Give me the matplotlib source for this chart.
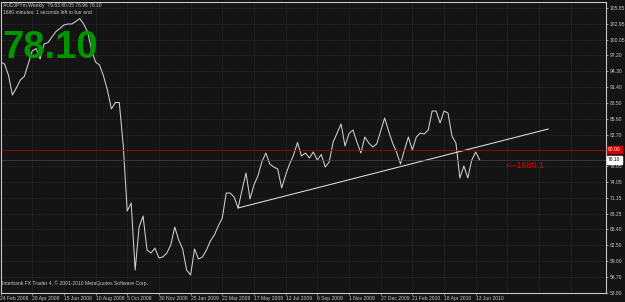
import numpy as np
import matplotlib
matplotlib.use('Agg')
import matplotlib.pyplot as plt

# weekly closes AUDJPY, one value per week starting 24 Feb 2008
closes = [95.99, 95.63, 93.62, 89.96, 91.24, 92.70, 93.34, 95.63, 98.00, 98.45,
          96.54, 99.28, 99.55, 100.56, 101.56, 102.11, 102.75, 102.93, 102.93, 103.39,
          103.94, 102.93, 101.47, 98.18, 95.99, 95.44, 93.44, 90.88, 87.41, 88.59,
          88.59, 80.65, 68.78, 70.24, 58.00, 65.85, 67.86, 61.65, 61.10, 62.00,
          60.20, 60.38, 61.10, 62.57, 65.85, 63.48, 61.84, 58.00, 57.09, 61.84,
          60.01, 60.38, 61.65, 63.30, 64.40, 66.04, 67.50, 72.06, 72.06, 71.33,
          69.33, 72.61, 75.72, 70.97, 73.53, 75.17, 77.73, 79.37, 77.36, 76.81,
          76.45, 72.98, 75.35, 77.36, 79.00, 81.29, 78.82, 79.37, 78.46, 79.55,
          78.09, 79.10, 76.81, 77.73, 81.38, 83.02, 84.67, 80.65, 82.93, 83.57,
          81.38, 79.37, 82.29, 81.20, 80.47, 81.02, 83.39, 85.76, 83.39, 81.20,
          79.55, 77.36, 79.92, 82.29, 79.92, 82.29, 83.02, 82.84, 83.57, 87.04,
          87.04, 84.85, 87.04, 86.68, 82.48, 81.20, 74.80, 77.00, 74.80, 78.09,
          79.55, 78.10]

date_labels = ['24 Feb 2008', '20 Apr 2008', '15 Jun 2008', '10 Aug 2008', '5 Oct 2008',
               '30 Nov 2008', '25 Jan 2009', '22 Mar 2009', '17 May 2009', '12 Jul 2009',
               '6 Sep 2009', '1 Nov 2009', '27 Dec 2009', '21 Feb 2010', '18 Apr 2010',
               '13 Jun 2010']
price_ticks = [105.85, 102.95, 100.05, 97.20, 94.30, 91.40, 88.50, 85.60, 82.70,
               76.95, 74.05, 71.15, 68.25, 65.40, 62.50, 59.60, 56.70, 53.80]

# trend line (week, price) and levels
trend_weeks = [60, 138.3]
trend_prices = [69.33, 83.75]
alert_level = 80.00
bid = 78.10

bg = '#141414'
fg = '#c8c8c8'
small = dict(family='Liberation Sans', fontsize=3.6, color=fg)

fig = plt.figure(figsize=(6.25, 3.02), dpi=100, facecolor=bg)
ax = fig.add_axes([0.5 / 625, 1 - 293 / 302, 605.5 / 625, 291 / 302])
ax.set_facecolor(bg)

weeks = np.arange(len(closes))
ax.plot(weeks, closes, color='#d0d0d0', lw=0.75)
ax.plot(trend_weeks, trend_prices, color='#e0e0e0', lw=0.75)
ax.axhline(alert_level, color='#a00000', lw=0.6)
ax.axhline(bid, color='#454545', lw=0.5)

ax.set_xlim(0, 152.9)
ax.set_ylim(53.8, 106.95)

xt = np.arange(0, 8 * len(date_labels), 8)
ax.set_xticks(xt)
ax.set_xticklabels(date_labels, ha='left', **small)
ax.set_xticks([128, 136, 144], minor=True)
ax.yaxis.tick_right()
ax.set_yticks(price_ticks)
ax.set_yticklabels(['%.2f' % p for p in price_ticks], **small)
ax.tick_params(axis='both', which='both', colors=fg, length=1.5, width=0.5, pad=1)
ax.tick_params(axis='x', which='minor', length=0)
ax.grid(True, which='both', color='#353535', linestyle=':', linewidth=0.6)

for s in ax.spines.values():
    s.set_color(fg)
    s.set_linewidth(0.8)

# price labels at the right margin
ax.text(1.003, (alert_level - 53.8) / (106.95 - 53.8), '%.2f' % alert_level,
        transform=ax.transAxes, va='center', ha='left', family='Liberation Sans',
        fontsize=3.6, color='white',
        bbox=dict(boxstyle='square,pad=0.25', fc='#d00000', ec='#d00000'))
ax.text(1.003, (bid - 53.8) / (106.95 - 53.8), '%.2f' % bid,
        transform=ax.transAxes, va='center', ha='left', family='Liberation Sans',
        fontsize=3.6, color='black',
        bbox=dict(boxstyle='square,pad=0.25', fc='white', ec='white'))

# header / footer texts
fig.text(3 / 625, 1 - 5 / 302, 'AUDJPYm,Weekly  79.63 80.05 76.96 78.10', va='center', **small)
fig.text(3 / 625, 1 - 12 / 302, '1680 minutes: 1 seconds left to bar end', va='center', **small)
fig.text(2 / 625, 1 - 58 / 302, '78.10', family='Liberation Sans', fontweight='bold',
         fontsize=27.5, color='#009600', va='baseline')
fig.text(2 / 625, 1 - 283 / 302, 'Interbank FX Trader 4, \u00a9 2001-2010 MetaQuotes Software Corp.',
         va='center', **small)
fig.text(506 / 625, 1 - 165 / 302, '<--1680:1', family='Liberation Sans', fontsize=6.5,
         color='#e00000', va='center')

fig.savefig('out.png', dpi=100, facecolor=bg)
